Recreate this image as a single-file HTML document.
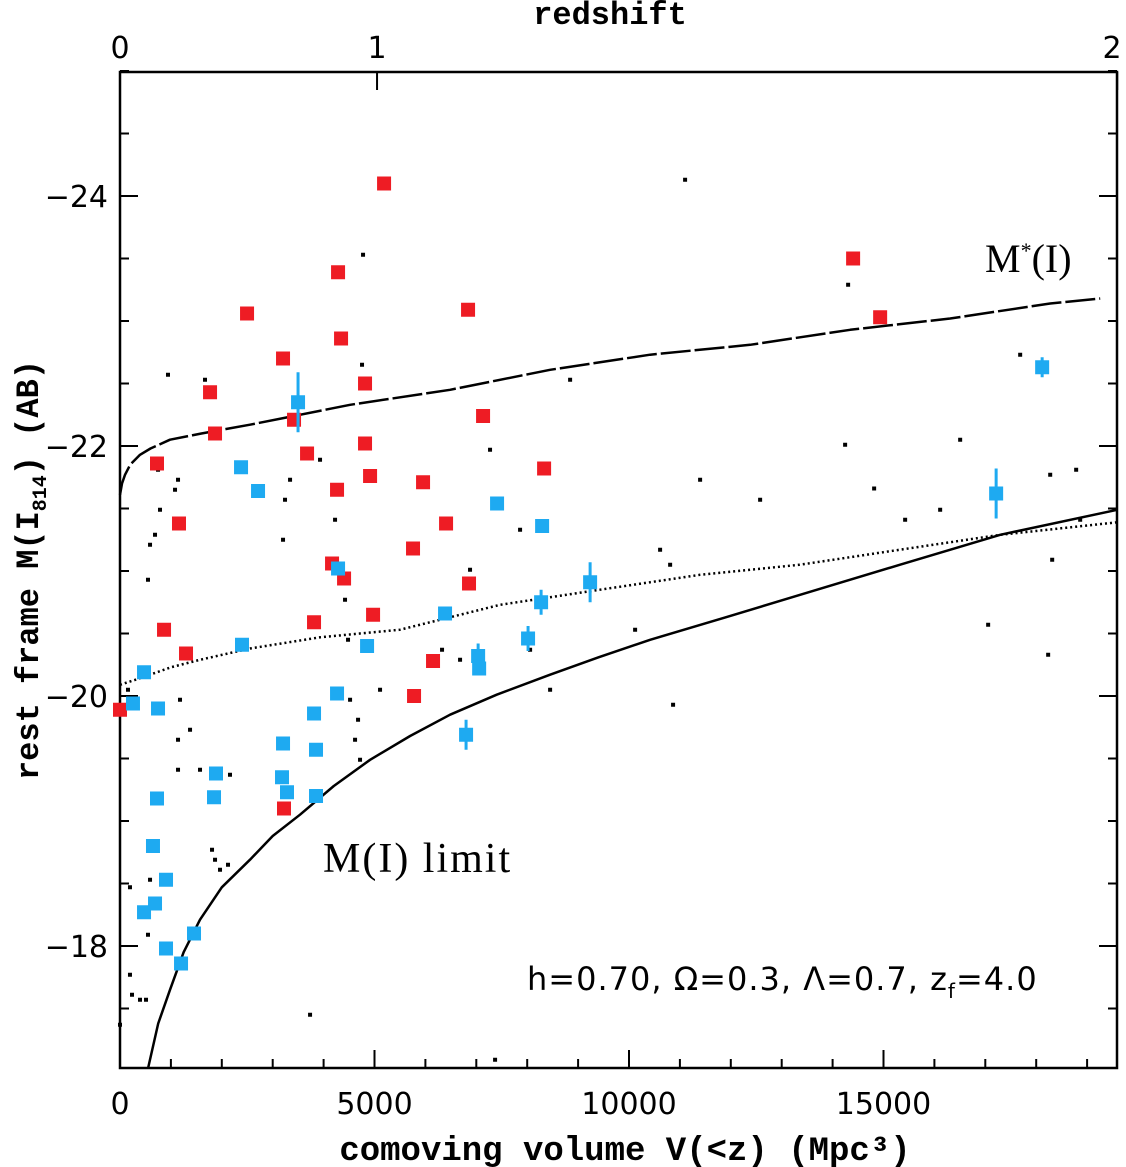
<!DOCTYPE html>
<html><head><meta charset="utf-8">
<style>
html,body{margin:0;padding:0;background:#fff;}
svg{display:block;font-family:"DejaVu Sans","Liberation Sans",sans-serif;}
</style></head>
<body>
<svg id="chart" width="1126" height="1167" viewBox="0 0 1126 1167" xmlns="http://www.w3.org/2000/svg">
<rect x="120" y="72" width="997" height="996" fill="none" stroke="#000" stroke-width="2.5"/>
<g id="ticks"></g>
<g id="curves"></g>
<g id="marks"></g>
<text x="625" y="1160" text-anchor="middle" font-family="Liberation Mono, monospace" font-size="34" font-weight="bold">comoving volume V(&lt;z) (Mpc³)</text>
<text x="610" y="24" text-anchor="middle" font-family="Liberation Mono, monospace" font-size="32" font-weight="bold">redshift</text>
<text transform="translate(38,570) rotate(-90)" text-anchor="middle" font-family="Liberation Mono, monospace" font-size="32" font-weight="bold">rest frame M(I<tspan font-size="20" dy="8">814</tspan><tspan dy="-8">) (AB)</tspan></text>
<text x="985" y="272" font-family="Liberation Serif, serif" font-size="40">M<tspan font-size="22" dy="-14">*</tspan><tspan dy="14">(I)</tspan></text>
<text x="323" y="872" font-family="Liberation Serif, serif" font-size="42" letter-spacing="2">M(I)  limit</text>
<text x="527" y="990" font-family="DejaVu Sans, sans-serif" font-size="32" letter-spacing="1">h=0.70, Ω=0.3, Λ=0.7, z<tspan font-size="20" dy="8">f</tspan><tspan dy="-8">=4.0</tspan></text>
</svg>
<script>
const xTicks=[0,5000,10000,15000];
const yTicks=[-24,-22,-20,-18];
const zLabels=["0","1","2"];
const zVolumes=[0,5050,19591];
const redV=[0,727,865,1159,1297,1769,1867,2496,3203,3222,3419,3675,3812,4166,4284,4264,4343,4402,4814,4814,4913,4972,5188,5777,5757,5954,6150,6406,6838,6857,7133,8332,14403,14934];
const redM=[-19.89,-21.86,-20.53,-21.38,-20.34,-22.43,-22.10,-23.06,-22.70,-19.10,-22.21,-21.94,-20.59,-21.06,-23.39,-21.65,-22.86,-20.94,-22.50,-22.02,-21.76,-20.65,-24.10,-20.0,-21.18,-21.71,-20.28,-21.38,-23.09,-20.90,-22.24,-21.82,-23.50,-23.03];
const blueV=[255,472,747,727,648,472,688,904,904,1199,1454,1886,1847,2378,2712,2397,3203,3183,3281,3851,3851,3812,3498,4264,4284,4854,6386,7036,7056,6799,7408,8017,8273,8293,9236,17213,18117];
const blueM=[-19.94,-20.19,-19.90,-19.18,-18.80,-18.27,-18.34,-18.53,-17.98,-17.86,-18.10,-19.38,-19.19,-21.83,-21.64,-20.41,-19.62,-19.35,-19.23,-19.20,-19.57,-19.86,-22.35,-20.02,-21.02,-20.40,-20.66,-20.32,-20.22,-19.69,-21.54,-20.46,-20.75,-21.36,-20.91,-21.62,-22.63];
const blueErr=[0,0,0,0,0,0,0,0,0,0,0,0,0,0,0,0,0,0.05,0,0,0,0,0.24,0,0,0,0,0.1,0,0.12,0,0.1,0.1,0,0.16,0.2,0.08];
const dotV=[0,157,196,196,236,393,511,550,590,550,590,688,786,747,943,1081,1140,1179,1140,1140,1376,1572,1670,1808,1867,1965,2122,2161,3203,3242,3242,3341,3734,3930,4225,4323,4421,4480,4520,4618,4716,4677,4775,4755,4814,5109,6327,6681,6877,6917,7270,7369,7860,8057,8450,8843,10120,10611,10808,10866,11102,11397,12576,14246,14305,14816,15425,16113,16506,17056,17685,18275,18235,18314,18785,18864];
const dotM=[-17.37,-20.05,-18.47,-17.77,-17.61,-17.57,-17.57,-18.09,-18.53,-20.93,-21.21,-21.29,-21.49,-21.81,-22.57,-21.65,-21.73,-19.97,-19.65,-19.41,-19.73,-19.41,-22.53,-18.77,-18.69,-18.61,-18.65,-19.37,-21.25,-21.57,-19.33,-21.73,-17.45,-21.89,-21.41,-20.93,-20.77,-20.45,-19.97,-19.65,-19.49,-19.81,-23.53,-22.65,-22.53,-20.05,-20.37,-20.29,-21.01,-20.93,-21.97,-17.09,-21.33,-20.37,-20.05,-22.53,-20.53,-21.17,-21.05,-19.93,-24.13,-21.73,-21.57,-22.01,-23.29,-21.66,-21.41,-21.49,-22.05,-20.57,-22.73,-21.77,-20.33,-21.09,-21.81,-21.41];
const limitV=[550,750,982,1250,1572,2000,2555,3000,3537,4200,4913,5700,6485,7400,8450,9400,10415,11900,13362,15327,17292,19591];
const limitM=[-17.02,-17.38,-17.65,-17.95,-18.21,-18.47,-18.69,-18.88,-19.05,-19.28,-19.49,-19.68,-19.85,-20.01,-20.17,-20.31,-20.45,-20.63,-20.81,-21.05,-21.29,-21.49];
const mstarV=[0,40,98,200,393,600,982,1600,2555,4520,6485,8450,10415,12380,14345,16310,18275,19257];
const mstarM=[-21.61,-21.70,-21.77,-21.85,-21.93,-21.98,-22.05,-22.10,-22.17,-22.33,-22.45,-22.61,-22.73,-22.81,-22.93,-23.02,-23.14,-23.18];
const dottedV=[0,300,590,1000,1572,2555,3930,5502,7467,9432,11397,13362,15327,17292,19591];
const dottedM=[-20.09,-20.13,-20.17,-20.23,-20.29,-20.38,-20.47,-20.53,-20.73,-20.85,-20.97,-21.05,-21.17,-21.29,-21.39];

const L=120,R=1117,T=72,B=1068;
const xMax=(R-L)/0.0509;
const X=v=>L+v*0.0509;
const Y=m=>196+(m+24)*125;
const NS="http://www.w3.org/2000/svg";
function mk(tag,attrs,parent){const e=document.createElementNS(NS,tag);for(const k in attrs)e.setAttribute(k,attrs[k]);parent.appendChild(e);return e;}
const tk=document.getElementById('ticks');
for(let v=0;v<=xMax;v+=1000){
  const maj=v%5000===0, len=maj?18:9, x=X(v);
  const l1=mk('line',{x1:x,x2:x,y1:B,y2:B-len,stroke:'#000','stroke-width':2},tk);
  
  
}
xTicks.forEach(v=>{const t=mk('text',{x:X(v),y:1114,'text-anchor':'middle','font-size':30},tk);t.textContent=String(v);
  
  });
for(let m=-25;m<=-17.01;m+=0.5){
  const maj=Math.abs(m%2)===0, len=maj?18:9, y=Y(m);
  const a=mk('line',{x1:L,x2:L+len,y1:y,y2:y,stroke:'#000','stroke-width':2},tk);
  
  
  const b=mk('line',{x1:R,x2:R-len,y1:y,y2:y,stroke:'#000','stroke-width':2},tk);
  
  
}
yTicks.forEach(m=>{const t=mk('text',{x:108,y:Y(m)+11,'text-anchor':'end','font-size':30},tk);t.textContent='\u2212'+Math.abs(m);
  
  });
zVolumes.forEach((v,i)=>{const x=X(v);
  const l=mk('line',{x1:x,x2:x,y1:T,y2:T+18,stroke:'#000','stroke-width':2},tk);
  
  
  const t=mk('text',{x:Math.min(x,1112),y:58,'text-anchor':'middle','font-size':30},tk);t.textContent=zLabels[i];
  
  });
const cv=document.getElementById('curves');
function path(vs,ms){return vs.map((v,i)=>(i?'L':'M')+X(v).toFixed(1)+','+Y(ms[i]).toFixed(1)).join(' ');}
const p1=mk('path',{d:path(limitV,limitM),fill:'none',stroke:'#000','stroke-width':2.5,'stroke-linejoin':'round'},cv);


const p2=mk('path',{d:path(mstarV,mstarM),fill:'none',stroke:'#000','stroke-width':2.5,'stroke-dasharray':'30 4','stroke-linejoin':'round'},cv);


const p3=mk('path',{d:path(dottedV,dottedM),fill:'none',stroke:'#000','stroke-width':2.5,'stroke-dasharray':'2 3'},cv);


const mg=document.getElementById('marks');
dotV.forEach((v,i)=>{const r=mk('rect',{x:X(v)-2,y:Y(dotM[i])-2,width:4,height:4,fill:'#000'},mg);
  
  });
redV.forEach((v,i)=>{const r=mk('rect',{x:X(v)-7,y:Y(redM[i])-7,width:14,height:14,fill:'#ee1c24'},mg);
  
  });
blueV.forEach((v,i)=>{
  if(blueErr[i]>0){const e=mk('line',{x1:X(v),x2:X(v),y1:Y(blueM[i]-blueErr[i]),y2:Y(blueM[i]+blueErr[i]),stroke:'#1eaaf1','stroke-width':3},mg);
    
    }
  const r=mk('rect',{x:X(v)-7,y:Y(blueM[i])-7,width:14,height:14,fill:'#1eaaf1'},mg);
  
  });
</script>
</body></html>
